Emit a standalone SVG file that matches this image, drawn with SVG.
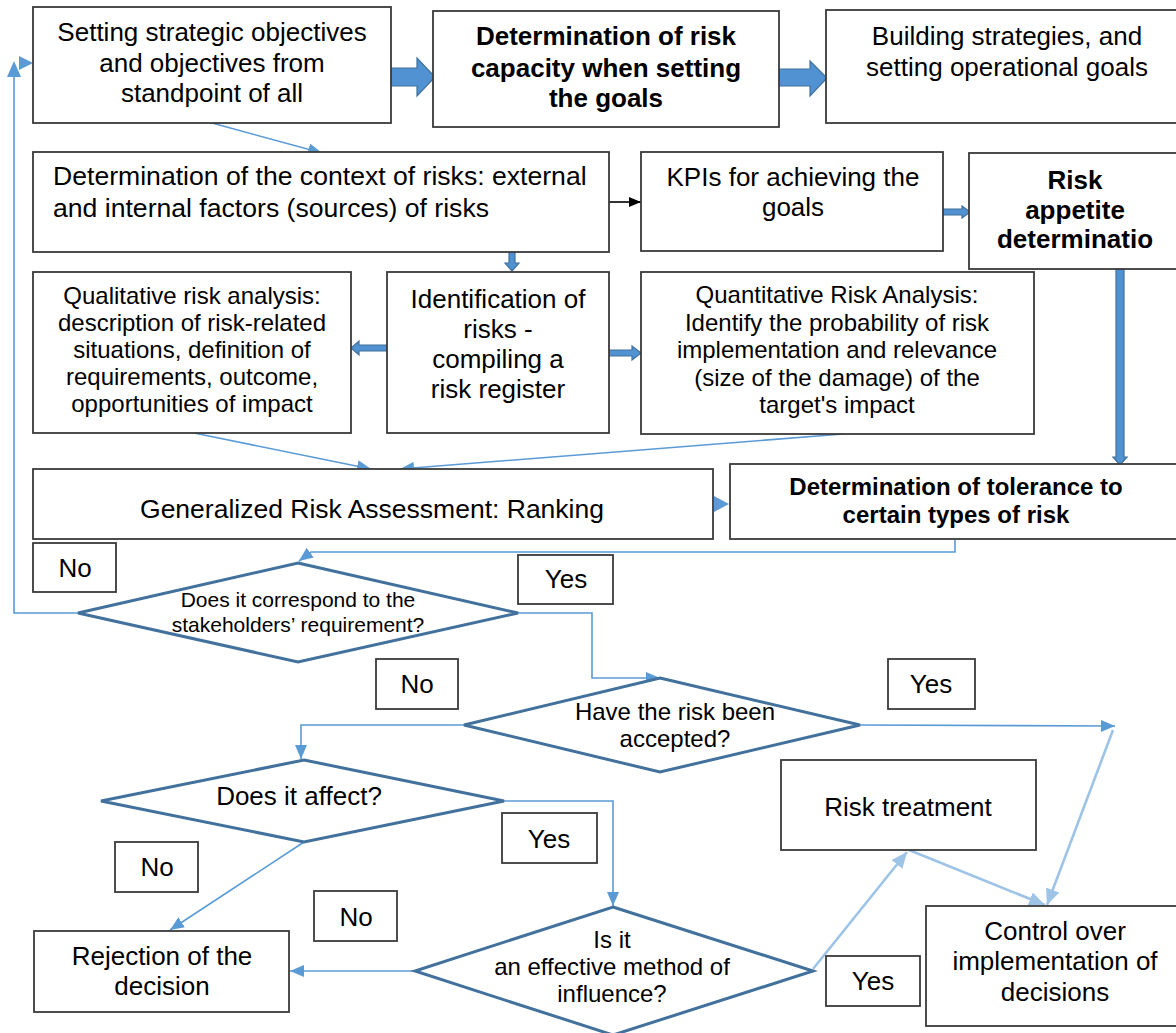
<svg xmlns="http://www.w3.org/2000/svg" width="1176" height="1033" viewBox="0 0 1176 1033">
<style>
.box{fill:#fff;stroke:#3a3a3a;stroke-width:1.8}
.dia{fill:#fff;stroke:#41719c;stroke-width:3}
.t{font-family:"Liberation Sans",Arial,sans-serif;fill:#000;text-anchor:middle}
.b{font-weight:bold}
.s26{font-size:26px}
.s24{font-size:24px}
.s21{font-size:21px}
.c{fill:none;stroke:#5b9bd5;stroke-width:1.6}
.cl{fill:none;stroke:#9dc3e6;stroke-width:2.6}
.ck{fill:none;stroke:#000;stroke-width:1.6}
.blk{fill:#5192d3;stroke:#41719c;stroke-width:1.2}
.hd{fill:#5b9bd5}
</style>
<defs>
<marker id="ab" viewBox="0 0 14 12" refX="14" refY="6" markerWidth="14" markerHeight="12" markerUnits="userSpaceOnUse" orient="auto"><path d="M0,0 L14,6 L0,12 z" fill="#5b9bd5"/></marker>
<marker id="al" viewBox="0 0 16 14" refX="16" refY="7" markerWidth="16" markerHeight="14" markerUnits="userSpaceOnUse" orient="auto"><path d="M0,0 L16,7 L0,14 z" fill="#9dc3e6"/></marker>
<marker id="ak" viewBox="0 0 12 10" refX="12" refY="5" markerWidth="12" markerHeight="10" markerUnits="userSpaceOnUse" orient="auto"><path d="M0,0 L12,5 L0,10 z" fill="#000"/></marker>
</defs>
<rect width="1176" height="1033" fill="#fff"/>

<g id="connectors">
<path class="blk" d="M391,68 H417 V58 L435,77 L417,96 V86 H391 Z"/>
<path class="blk" d="M779,69 H810 V61 L827,78 L810,96 V86 H779 Z"/>
<line class="c" x1="212" y1="123" x2="322" y2="153" marker-end="url(#ab)"/>
<line class="ck" x1="609" y1="202" x2="641" y2="202" marker-end="url(#ak)"/>
<path class="blk" d="M942,209 H962 V206 L970,212 L962,218 V215 H942 Z"/>
<path class="blk" d="M509,252 V263 H505 L512,271 L519,263 H515 V252 Z"/>
<path class="blk" d="M387,345 H359 V341 L351,348 L359,355 V351 H387 Z"/>
<path class="blk" d="M609,350 H632 V346 L641,353 L632,360 V356 H609 Z"/>
<path class="blk" d="M1116,269 V457 H1113 L1120,465 L1127,457 H1124 V269 Z"/>
<line class="c" x1="194" y1="433" x2="371" y2="469" marker-end="url(#ab)"/>
<line class="c" x1="843" y1="434" x2="400" y2="469" marker-end="url(#ab)"/>
<polygon class="hd" points="729,504 714,496 714,512"/>
<path class="c" d="M955,539 V552 H311 L299,561" marker-end="url(#ab)"/>
<path class="c" d="M78,613 H14 V76"/>
<polygon class="hd" points="14,61 7,77 21,77"/>
<polygon class="hd" points="33,63 19,56 19,70"/>
<path class="c" d="M518,613 H592 V678 H660" marker-end="url(#ab)"/>
<line class="c" x1="860" y1="725" x2="1115" y2="726" marker-end="url(#ab)"/>
<line class="cl" x1="1113" y1="730" x2="1047" y2="905" marker-end="url(#al)"/>
<path class="c" d="M464,725 H301 V759" marker-end="url(#ab)"/>
<path class="c" d="M504,801 H613 V906" marker-end="url(#ab)"/>
<line class="c" x1="304" y1="842" x2="170" y2="930" marker-end="url(#ab)"/>
<line class="c" x1="415" y1="971" x2="290" y2="971" marker-end="url(#ab)"/>
<line class="cl" x1="813" y1="969" x2="907" y2="852" marker-end="url(#al)"/>
<line class="cl" x1="909" y1="850" x2="1045" y2="905" marker-end="url(#al)"/>
</g>

<g id="n1"><rect class="box" x="33" y="7" width="358" height="116"/>
<text class="t s26" x="212" y="41">Setting strategic objectives</text>
<text class="t s26" x="212" y="72">and objectives from</text>
<text class="t s26" x="212" y="102">standpoint of all</text></g>

<g id="n2"><rect class="box" x="433" y="11" width="346" height="116"/>
<text class="t s26 b" x="606" y="45">Determination of risk</text>
<text class="t s26 b" x="606" y="77">capacity when setting</text>
<text class="t s26 b" x="606" y="107">the goals</text></g>

<g id="n3"><rect class="box" x="826" y="10" width="360" height="113"/>
<text class="t s26" x="1007" y="45">Building strategies, and</text>
<text class="t s26" x="1007" y="76">setting operational goals</text></g>

<g id="n4"><rect class="box" x="33" y="152" width="576" height="100"/>
<text class="t s26" x="53" y="185" style="text-anchor:start;font-size:26.6px">Determination of the context of risks: external</text>
<text class="t s26" x="53" y="217" style="text-anchor:start;font-size:26.6px">and internal factors (sources) of risks</text></g>

<g id="n5"><rect class="box" x="641" y="152" width="302" height="99"/>
<text class="t s26" x="793" y="186">KPIs for achieving the</text>
<text class="t s26" x="793" y="216">goals</text></g>

<g id="n6"><rect class="box" x="969" y="153" width="215" height="116"/>
<text class="t s26 b" x="1075" y="189">Risk</text>
<text class="t s26 b" x="1075" y="219">appetite</text>
<text class="t s26 b" x="1075" y="248">determinatio</text></g>

<g id="n7"><rect class="box" x="33" y="272" width="318" height="161"/>
<text class="t s24" x="192" y="304">Qualitative risk analysis:</text>
<text class="t s24" x="192" y="331">description of risk-related</text>
<text class="t s24" x="192" y="358">situations, definition of</text>
<text class="t s24" x="192" y="385">requirements, outcome,</text>
<text class="t s24" x="192" y="412">opportunities of impact</text></g>

<g id="n8"><rect class="box" x="387" y="272" width="222" height="161"/>
<text class="t s26" x="498" y="308">Identification of</text>
<text class="t s26" x="498" y="338">risks -</text>
<text class="t s26" x="498" y="368">compiling a</text>
<text class="t s26" x="498" y="398">risk register</text></g>

<g id="n9"><rect class="box" x="641" y="272" width="393" height="162"/>
<text class="t s24" x="837" y="303">Quantitative Risk Analysis:</text>
<text class="t s24" x="837" y="331">Identify the probability of risk</text>
<text class="t s24" x="837" y="358">implementation and relevance</text>
<text class="t s24" x="837" y="386">(size of the damage) of the</text>
<text class="t s24" x="837" y="413">target's impact</text></g>

<g id="n10"><rect class="box" x="33" y="469" width="680" height="70"/>
<text class="t s26" x="372" y="518" style="font-size:26.5px">Generalized Risk Assessment: Ranking</text></g>

<g id="n11"><rect class="box" x="730" y="464" width="460" height="75"/>
<text class="t s24 b" x="956" y="495">Determination of tolerance to</text>
<text class="t s24 b" x="956" y="523">certain types of risk</text></g>

<g id="d1"><polygon class="dia" points="298,563 518,613 298,662 78,613"/>
<text class="t s21" x="298" y="607">Does it correspond to the</text>
<text class="t s21" x="298" y="632">stakeholders’ requirement?</text></g>

<g id="d2"><polygon class="dia" points="660,678 860,725 660,772 464,725"/>
<text class="t s24" x="675" y="720">Have the risk been</text>
<text class="t s24" x="675" y="747">accepted?</text></g>

<g id="d3"><polygon class="dia" points="304,760 504,801 304,842 101,801"/>
<text class="t s26" x="299" y="805">Does it affect?</text></g>

<g id="d4"><polygon class="dia" points="613,907 813,971 613,1035 415,971"/>
<text class="t s24" x="612" y="948">Is it</text>
<text class="t s24" x="612" y="975">an effective method of</text>
<text class="t s24" x="612" y="1002">influence?</text></g>

<g id="n12"><rect class="box" x="781" y="760" width="255" height="90"/>
<text class="t s26" x="908" y="816">Risk treatment</text></g>

<g id="n13"><rect class="box" x="34" y="931" width="255" height="81"/>
<text class="t s26" x="162" y="965">Rejection of the</text>
<text class="t s26" x="162" y="995">decision</text></g>

<g id="n14"><rect class="box" x="926" y="906" width="260" height="120"/>
<text class="t s26" x="1055" y="940">Control over</text>
<text class="t s26" x="1055" y="970">implementation of</text>
<text class="t s26" x="1055" y="1001">decisions</text></g>

<g id="l1"><rect class="box" x="33" y="543" width="83" height="49"/><text class="t s26" x="75" y="577">No</text></g>
<g id="l2"><rect class="box" x="518" y="555" width="95" height="49"/><text class="t s26" x="566" y="588">Yes</text></g>
<g id="l3"><rect class="box" x="376" y="659" width="82" height="50"/><text class="t s26" x="417" y="693">No</text></g>
<g id="l4"><rect class="box" x="888" y="659" width="87" height="50"/><text class="t s26" x="931" y="693">Yes</text></g>
<g id="l5"><rect class="box" x="502" y="813" width="95" height="50"/><text class="t s26" x="549" y="848">Yes</text></g>
<g id="l6"><rect class="box" x="115" y="842" width="83" height="50"/><text class="t s26" x="157" y="876">No</text></g>
<g id="l7"><rect class="box" x="314" y="891" width="83" height="50"/><text class="t s26" x="356" y="926">No</text></g>
<g id="l8"><rect class="box" x="826" y="956" width="94" height="50"/><text class="t s26" x="873" y="990">Yes</text></g>
</svg>
